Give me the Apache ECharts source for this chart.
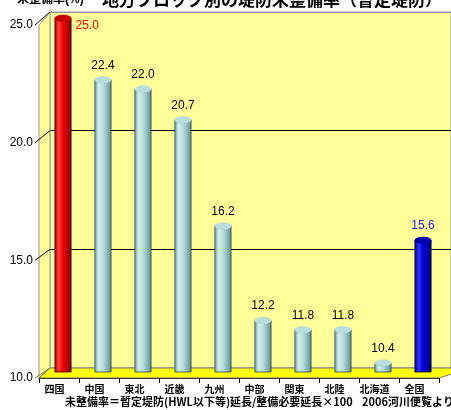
<!DOCTYPE html>
<html>
<head>
<meta charset="utf-8">
<script src="https://cdn.jsdelivr.net/npm/echarts@6/dist/echarts.min.js"></script>
<style>
  html, body { margin: 0; padding: 0; background: #fff; }
  #chart { width: 451px; height: 410px; }
</style>
</head>
<body>
<div id="chart"></div>
<script>
// データ
const categories = ["四国", "中国", "東北", "近畿", "九州", "中部", "関東", "北陸", "北海道", "全国"];
const values = [25.0, 22.4, 22.0, 20.7, 16.2, 12.2, 11.8, 11.8, 10.4, 15.6];
const yMin = 10, yMax = 25, yStep = 5;

// 立体の奥行き
const front = { left: 39, top: 25, width: 400, height: 353 };
const back = { left: 50, top: 12, width: 420, height: 356 };
const bars = { left: 43, top: 18, width: 400, height: 354 };

const grad = (stops) => new echarts.graphic.LinearGradient(0, 0, 1, 0,
  stops.map((c, i) => ({ offset: i / (stops.length - 1), color: c })));

const styles = {
  normal: { body: ["#6f9c9c", "#d4f0f0", "#b6dcdc", "#8cb8b8", "#5e8888"], cap: "#b8dede", edge: "#2f4f4f" },
  red: { body: ["#a00000", "#ff3a3a", "#ee0000", "#c00000", "#700000"], cap: "#c80000", edge: "#400000" },
  blue: { body: ["#000088", "#3030ff", "#0000dd", "#0000aa", "#000066"], cap: "#0000b0", edge: "#000033" }
};
const styleOf = (i) => i === 0 ? styles.red : (i === categories.length - 1 ? styles.blue : styles.normal);

const barData = values.map((v, i) => {
  const s = styleOf(i);
  const item = { value: v, itemStyle: { color: grad(s.body), borderColor: s.edge, borderWidth: 0.8 } };
  if (i === 0) {
    item.label = { position: [21, 8], align: "left", verticalAlign: "middle", color: "#ff0000" };
  } else if (i === categories.length - 1) {
    item.label = { color: "#1a1aff" };
  }
  return item;
});
const capData = values.map((v, i) => {
  const s = styleOf(i);
  return { value: v, itemStyle: { color: s.cap, borderColor: s.edge, borderWidth: 1 } };
});
const baseData = values.map((v, i) => {
  const s = styleOf(i);
  return { value: v, itemStyle: { color: grad(s.body), borderColor: s.edge, borderWidth: 1 } };
});

const chart = echarts.init(document.getElementById("chart"));

const option = {
  animation: false,
  backgroundColor: "#fff",
  textStyle: { fontFamily: "'Liberation Sans', Arial, 'Noto Sans CJK JP', sans-serif" },
  title: [
    { text: "未整備率(%)", left: 12, top: -11, textStyle: { fontSize: 12, fontWeight: "bold", color: "#000" } },
    { text: "地方ブロック別の堤防未整備率（暫定堤防）", left: 97, top: -14,
      textStyle: { fontSize: 17, fontWeight: "bold", color: "#000", fontFamily: "'Noto Sans CJK JP', sans-serif" } }
  ],
  grid: [
    Object.assign({ show: true, backgroundColor: "#ffff99", borderColor: "#999", borderWidth: 1 }, back),
    Object.assign({}, front),
    Object.assign({}, bars)
  ],
  xAxis: [
    { gridIndex: 0, type: "category", data: categories, show: false },
    {
      gridIndex: 1, type: "category", data: categories,
      axisLine: { lineStyle: { color: "#000", width: 1 } },
      axisTick: { show: true, length: 5, lineStyle: { color: "#000" } },
      axisLabel: {
        margin: 6, fontSize: 10, fontWeight: "bold", color: "#000", padding: [0, 9, 0, 0],
        fontFamily: "'Noto Sans CJK JP', sans-serif"
      }
    },
    { gridIndex: 2, type: "category", data: categories, show: false }
  ],
  yAxis: [
    {
      gridIndex: 0, type: "value", min: yMin, max: yMax, interval: yStep,
      axisLine: { show: false }, axisTick: { show: false }, axisLabel: { show: false },
      splitLine: { lineStyle: { color: ["#999", "#000", "#000", "#999"], width: 1 } }
    },
    {
      gridIndex: 1, type: "value", min: yMin, max: yMax, interval: yStep,
      axisLine: { show: true, lineStyle: { color: "#000", width: 1 } },
      axisTick: { show: false },
      splitLine: { show: false },
      axisLabel: { margin: 6, fontSize: 12, color: "#000", formatter: (v) => v.toFixed(1) }
    },
    { gridIndex: 2, type: "value", min: yMin, max: yMax, interval: yStep, show: false }
  ],
  series: [
    {
      type: "pictorialBar", xAxisIndex: 2, yAxisIndex: 2, data: baseData,
      symbol: "circle", symbolSize: [17, 7], symbolPosition: "start", symbolOffset: [0, "50%"],
      z: 3
    },
    {
      type: "bar", xAxisIndex: 2, yAxisIndex: 2, data: barData, barWidth: 17,
      label: {
        show: true, position: "top", distance: 8, fontSize: 12, color: "#000",
        formatter: (p) => p.value.toFixed(1)
      },
      z: 4
    },
    {
      type: "pictorialBar", xAxisIndex: 2, yAxisIndex: 2, data: capData,
      symbol: "circle", symbolSize: [17, 7], symbolPosition: "end", symbolOffset: [0, "-50%"],
      z: 5
    }
  ]
};
chart.setOption(option);

// 左の側壁・床・目盛の斜線
const dx = back.left - front.left;
const frontBottom = front.top + front.height;
const backBottom = back.top + back.height;
const graphics = [
  {
    type: "polygon", z: 1,
    shape: { points: [[front.left, front.top], [back.left, back.top], [back.left, backBottom], [front.left, frontBottom]] },
    style: { fill: "#ffff99", stroke: "#999", lineWidth: 1 }
  },
  {
    type: "polygon", z: 1,
    shape: { points: [[front.left, frontBottom], [back.left, backBottom], [back.left + front.width + 20, backBottom], [front.left + front.width, frontBottom]] },
    style: { fill: "#ffff00", stroke: "#777", lineWidth: 1 }
  },
  {
    type: "text", left: 65, top: 396, z: 10,
    style: {
      text: "未整備率＝暫定堤防(HWL以下等)延長/整備必要延長×100",
      fontSize: 11, fontWeight: "bold", fill: "#000", fontFamily: "'Noto Sans CJK JP', sans-serif"
    }
  },
  {
    type: "text", left: 362, top: 396, z: 10,
    style: {
      text: "2006河川便覧より",
      fontSize: 11, fontWeight: "bold", fill: "#000", fontFamily: "'Noto Sans CJK JP', sans-serif"
    }
  }
];
for (let v = yMin; v <= yMax; v += yStep) {
  const yf = chart.convertToPixel({ yAxisIndex: 1 }, v);
  const yb = chart.convertToPixel({ yAxisIndex: 0 }, v);
  graphics.push({
    type: "line", z: 2,
    shape: { x1: front.left - 4, y1: yf, x2: front.left + dx, y2: yb },
    style: { stroke: v === yMin ? "#777" : "#000", lineWidth: 1 }
  });
}
chart.setOption({ graphic: graphics });
</script>
</body>
</html>
